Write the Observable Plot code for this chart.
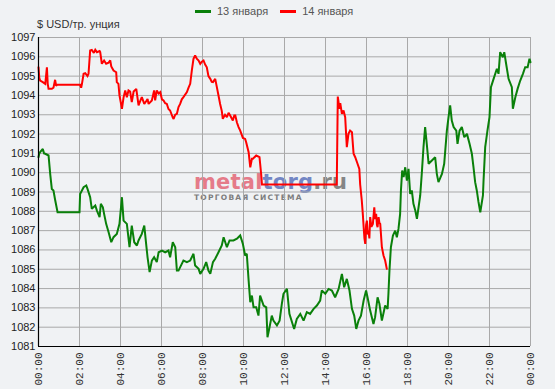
<!DOCTYPE html>
<html><head><meta charset="utf-8">
<script src="https://cdn.jsdelivr.net/npm/d3@7"></script>
<script src="https://cdn.jsdelivr.net/npm/@observablehq/plot@0.6"></script>
<style>
body{margin:0;background:#f0f2f4;font-family:"Liberation Sans",Arial,sans-serif;}
#wrap{position:relative;width:555px;height:389px;overflow:hidden;}
#legend{position:absolute;top:5px;left:195px;font-size:11px;color:#555;white-space:nowrap;}
#legend .sw{display:inline-block;width:16px;height:3px;vertical-align:middle;margin-right:6px;position:relative;top:-1px;}
#legend .it{margin-right:12px;}
#ytitle{position:absolute;top:18px;left:37px;font-size:11px;color:#333;}
#wm{position:absolute;left:194px;top:172px;z-index:0;line-height:1;}
#wm .big{font-family:"DejaVu Sans",sans-serif;font-weight:bold;font-size:21px;letter-spacing:0.2px;}
#wm .small{font-family:"DejaVu Sans",sans-serif;font-weight:bold;font-size:7.5px;letter-spacing:1.25px;color:#7d7d7d;margin-top:1px;}
#chart{position:absolute;left:0;top:0;z-index:1;}
</style></head>
<body>
<div id="wrap">
  <div id="wm"><div class="big"><span style="color:#e57b89">metal</span><span style="color:#7386c4">torg</span><span style="color:#858585">.ru</span></div><div class="small">ТОРГОВАЯ СИСТЕМА</div></div>
  <div id="chart"></div>
  <div id="legend"></div>
  <div id="ytitle">$ USD/тр. унция</div>
</div>
<script>
const seriesNames = ["13 января", "14 января"];
const seriesColors = ["#0a800a", "#ff0000"];
const xTicks = [0,2,4,6,8,10,12,14,16,18,20,22,24];
const yTicks = [1081,1082,1083,1084,1085,1086,1087,1088,1089,1090,1091,1092,1093,1094,1095,1096,1097];

// [hour of day, price]
const green13 = [[0,1090.8],[0.04,1091.0],[0.08,1091.06],[0.21,1091.23],[0.27,1091.0],[0.33,1090.98],[0.49,1090.89],[0.57,1089.94],[0.65,1089.16],[0.73,1089.08],[0.81,1088.6],[0.93,1087.95],[2.0,1087.95],[2.03,1088.9],[2.2,1089.25],[2.33,1089.34],[2.39,1089.16],[2.52,1088.73],[2.6,1088.13],[2.77,1088.3],[2.85,1088.04],[2.98,1087.7],[3.04,1088.39],[3.14,1088.21],[3.2,1087.87],[3.3,1087.35],[3.42,1086.92],[3.55,1086.4],[3.66,1086.66],[3.82,1086.83],[3.95,1087.35],[4.07,1088.73],[4.15,1087.52],[4.31,1087.35],[4.44,1086.14],[4.55,1087.26],[4.67,1086.4],[4.8,1086.23],[4.88,1086.49],[5.04,1086.83],[5.16,1087.26],[5.25,1086.31],[5.32,1085.62],[5.42,1084.85],[5.53,1085.45],[5.64,1085.62],[5.77,1085.37],[5.86,1085.88],[6.02,1085.97],[6.18,1085.88],[6.34,1085.97],[6.42,1085.62],[6.55,1086.4],[6.67,1086.14],[6.75,1084.93],[6.83,1084.93],[6.99,1085.28],[7.07,1085.45],[7.24,1085.37],[7.4,1085.45],[7.56,1085.8],[7.64,1085.19],[7.81,1085.02],[7.89,1084.76],[8.05,1085.02],[8.18,1085.37],[8.29,1084.93],[8.38,1084.76],[8.51,1085.37],[8.62,1085.54],[8.78,1085.88],[8.94,1086.23],[9.03,1086.66],[9.19,1086.14],[9.32,1086.49],[9.51,1086.49],[9.68,1086.58],[9.84,1086.75],[9.97,1086.31],[10.08,1085.71],[10.16,1085.8],[10.25,1084.42],[10.33,1083.29],[10.41,1083.64],[10.49,1083.03],[10.62,1083.03],[10.73,1082.6],[10.81,1083.64],[10.98,1083.12],[11.11,1083.03],[11.17,1081.48],[11.27,1082.0],[11.38,1082.6],[11.46,1082.34],[11.63,1082.09],[11.76,1082.34],[11.87,1083.21],[11.95,1083.73],[12.12,1083.98],[12.24,1082.69],[12.47,1081.91],[12.6,1082.43],[12.77,1082.69],[12.93,1082.34],[13.09,1082.78],[13.25,1082.69],[13.42,1082.95],[13.58,1083.12],[13.74,1083.38],[13.82,1083.9],[13.99,1083.73],[14.15,1083.98],[14.31,1083.9],[14.47,1083.55],[14.64,1083.98],[14.8,1084.76],[14.91,1084.07],[15.04,1084.5],[15.17,1083.9],[15.29,1082.95],[15.4,1082.6],[15.5,1081.91],[15.61,1082.34],[15.73,1082.6],[15.86,1083.38],[15.98,1083.9],[16.05,1083.55],[16.18,1082.86],[16.34,1082.17],[16.42,1082.52],[16.54,1083.55],[16.63,1083.21],[16.75,1082.34],[16.91,1083.12],[17.03,1082.95],[17.07,1083.73],[17.12,1084.93],[17.19,1086.14],[17.29,1086.75],[17.4,1087.0],[17.48,1086.66],[17.56,1087.09],[17.64,1087.87],[17.68,1089.08],[17.74,1090.11],[17.81,1089.77],[17.89,1090.28],[17.97,1089.59],[18.05,1090.2],[18.13,1088.9],[18.21,1089.08],[18.29,1088.39],[18.38,1088.04],[18.46,1087.61],[18.54,1088.21],[18.62,1088.82],[18.7,1090.0],[18.78,1091.32],[18.86,1092.36],[18.94,1091.49],[19.03,1090.46],[19.19,1090.63],[19.35,1090.8],[19.43,1089.94],[19.51,1089.51],[19.68,1089.94],[19.79,1090.46],[19.92,1092.18],[20.0,1092.87],[20.08,1093.48],[20.16,1092.7],[20.25,1092.36],[20.38,1092.18],[20.44,1091.49],[20.54,1092.18],[20.65,1092.36],[20.77,1091.84],[20.9,1092.01],[21.03,1091.49],[21.14,1090.98],[21.22,1090.28],[21.3,1089.51],[21.38,1089.08],[21.46,1088.5],[21.55,1087.95],[21.68,1088.82],[21.71,1089.6],[21.79,1091.32],[21.9,1092.18],[22.0,1092.87],[22.07,1094.43],[22.2,1094.86],[22.36,1095.38],[22.44,1095.12],[22.52,1096.24],[22.65,1095.98],[22.72,1096.24],[22.81,1095.64],[22.93,1094.86],[23.09,1094.43],[23.14,1093.31],[23.26,1093.91],[23.37,1094.34],[23.5,1094.77],[23.63,1095.12],[23.74,1095.46],[23.86,1095.46],[23.95,1095.9],[24.0,1095.72]];

const red14 = [[0,1095.46],[0.04,1094.9],[0.08,1094.77],[0.21,1094.69],[0.33,1094.6],[0.41,1095.46],[0.45,1094.6],[0.49,1094.34],[0.57,1094.34],[0.65,1094.34],[0.73,1094.4],[0.81,1094.81],[0.86,1094.5],[0.9,1094.55],[2.03,1094.55],[2.08,1094.4],[2.12,1094.6],[2.2,1095.12],[2.28,1095.15],[2.39,1095.0],[2.44,1095.12],[2.52,1096.33],[2.6,1096.36],[2.7,1096.2],[2.77,1096.36],[2.85,1096.24],[2.98,1096.3],[3.01,1096.24],[3.09,1095.64],[3.2,1095.81],[3.3,1095.64],[3.42,1095.7],[3.5,1095.81],[3.55,1095.5],[3.66,1095.29],[3.79,1095.2],[3.82,1094.69],[3.9,1094.6],[3.95,1094.0],[4.07,1093.31],[4.15,1093.9],[4.23,1094.26],[4.31,1093.91],[4.39,1094.26],[4.47,1094.2],[4.55,1093.65],[4.64,1094.2],[4.77,1094.34],[4.88,1093.48],[4.96,1093.7],[5.04,1093.91],[5.16,1093.56],[5.25,1093.7],[5.32,1093.82],[5.37,1093.56],[5.53,1093.74],[5.64,1094.26],[5.69,1093.74],[5.77,1094.26],[5.86,1094.1],[5.94,1094.17],[6.02,1093.8],[6.1,1093.74],[6.18,1093.6],[6.26,1093.56],[6.34,1093.3],[6.42,1093.22],[6.55,1092.85],[6.59,1092.79],[6.67,1093.0],[6.75,1093.05],[6.83,1093.4],[6.91,1093.56],[6.99,1093.8],[7.07,1093.91],[7.24,1094.17],[7.32,1094.4],[7.4,1094.6],[7.48,1095.3],[7.56,1095.9],[7.64,1096.07],[7.72,1095.9],[7.81,1095.81],[7.89,1095.64],[7.97,1095.75],[8.05,1095.81],[8.13,1095.6],[8.21,1095.46],[8.29,1095.0],[8.38,1094.86],[8.45,1094.7],[8.51,1094.69],[8.62,1094.86],[8.7,1094.43],[8.78,1094.0],[8.86,1093.56],[8.94,1093.2],[8.99,1092.79],[9.1,1093.0],[9.19,1092.87],[9.27,1093.1],[9.35,1092.96],[9.48,1092.7],[9.55,1092.96],[9.6,1092.96],[9.68,1092.6],[9.76,1092.36],[9.84,1092.18],[9.97,1091.8],[10.08,1091.75],[10.13,1091.58],[10.25,1091.06],[10.33,1090.28],[10.41,1090.72],[10.46,1090.72],[10.62,1090.89],[10.78,1090.8],[10.86,1089.94],[10.9,1089.39],[14.55,1089.39],[14.6,1093.94],[14.68,1093.3],[14.72,1093.6],[14.8,1093.05],[14.88,1093.22],[14.96,1092.87],[15.04,1091.32],[15.12,1092.01],[15.2,1092.18],[15.29,1092.1],[15.37,1090.98],[15.45,1090.8],[15.55,1090.5],[15.65,1090.2],[15.69,1089.4],[15.77,1088.56],[15.82,1087.87],[15.86,1087.2],[15.9,1086.6],[15.94,1086.31],[15.98,1087.3],[16.02,1087.52],[16.06,1086.8],[16.1,1087.0],[16.14,1086.6],[16.18,1087.7],[16.24,1087.2],[16.31,1087.35],[16.38,1088.21],[16.42,1087.6],[16.47,1087.87],[16.51,1087.3],[16.54,1087.18],[16.59,1087.7],[16.63,1087.4],[16.67,1087.35],[16.75,1086.14],[16.83,1085.71],[16.91,1085.45],[16.99,1085.02]];

const rows = [
  ...green13.map(([h, v]) => ({h, v, s: seriesNames[0]})),
  ...red14.map(([h, v]) => ({h, v, s: seriesNames[1]}))
];

const fmtX = d => String(d % 24).padStart(2, "0") + ":00";
const fmtY = d => String(d);

const chart = Plot.plot({
  width: 555,
  height: 389,
  marginLeft: 38,
  marginRight: 25,
  marginTop: 37,
  marginBottom: 43,
  style: {background: "transparent", fontFamily: "Liberation Sans, Arial, sans-serif", fontSize: "11px", color: "#222"},
  x: {domain: [0, 24]},
  y: {domain: [1081, 1097]},
  color: {domain: seriesNames, range: seriesColors},
  marks: [
    Plot.gridX(xTicks, {stroke: "#a9a9a9", strokeOpacity: 1}),
    Plot.gridY(yTicks, {stroke: "#a9a9a9", strokeOpacity: 1}),
    Plot.axisY(yTicks, {tickSize: 0, tickPadding: 3, tickFormat: fmtY, label: null, fill: "#222"}),
    Plot.axisX(xTicks, {tickSize: 0, tickPadding: 6, tickRotate: -90, tickFormat: fmtX, label: null, fontFamily: "Liberation Mono, DejaVu Sans Mono, monospace", fontSize: 11, fill: "#333"}),
    Plot.line(rows, {x: "h", y: "v", z: "s", stroke: "s", strokeWidth: 2, strokeLinejoin: "miter", strokeMiterlimit: 2}),
    Plot.ruleX([0], {stroke: "#000", strokeWidth: 1.2}),
    Plot.ruleY([1081], {stroke: "#000", strokeWidth: 1.2})
  ]
});
document.getElementById("chart").appendChild(chart);

const lg = document.getElementById("legend");
seriesNames.forEach((n, i) => {
  const it = document.createElement("span");
  it.className = "it";
  it.innerHTML = `<span class="sw" style="background:${seriesColors[i]}"></span>${n}`;
  lg.appendChild(it);
});
</script>
</body></html>
